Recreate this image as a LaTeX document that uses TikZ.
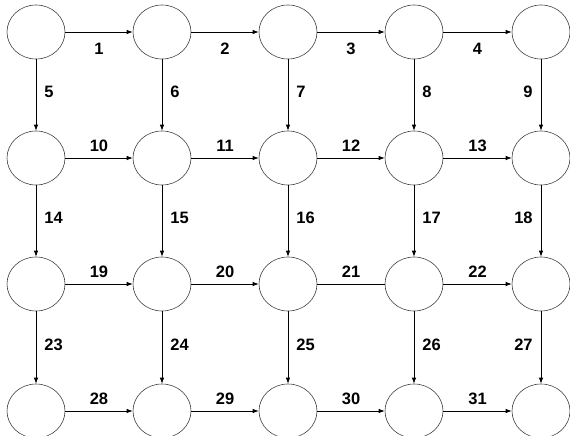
\documentclass[tikz,border=0pt]{standalone}
\usepackage{fontspec}
\setmainfont{Liberation Sans}
\usetikzlibrary{arrows.meta,positioning,shapes.geometric}

\begin{document}
\begin{tikzpicture}[
  x=1pt,y=-1pt,
  line cap=round,line join=round,
  state/.style={ellipse,draw=black!75,line width=0.6pt,minimum width=58pt,minimum height=54pt,inner sep=0pt},
  link/.style={line width=0.8pt,-{Latex[length=6pt,width=4.5pt]}},
  tag/.style={font=\fontsize{16.5}{19}\selectfont\bfseries,inner sep=0pt}
]
  \useasboundingbox (0,0) rectangle (570,436);

  % Grid of states
  \foreach \r/\y in {1/32,2/158,3/284,4/411}{
    \foreach \c/\x in {1/36,2/162,3/288,4/414,5/541}{
      \node[state] (n-\r-\c) at (\x,\y) {};
    }
  }

  % Horizontal links
  \foreach \r in {1,...,4}{
    \foreach \c [evaluate=\c as \d using int(\c+1),
                 evaluate=\c as \k using int((\r-1)*9+\c)] in {1,...,4}{
      \ifnum\r=1
        \draw[link] (n-\r-\c) -- node[tag,midway,below=11pt] {\k} (n-\r-\d);
      \else\ifnum\k=21
        \draw[line width=0.8pt] (n-\r-\c) -- node[tag,midway,above=6pt] {\k} (n-\r-\d);
      \else
        \draw[link] (n-\r-\c) -- node[tag,midway,above=6pt] {\k} (n-\r-\d);
      \fi\fi
    }
  }

  % Vertical links
  \foreach \r in {1,...,3}{
    \foreach \c [evaluate=\c as \k using int((\r-1)*9+4+\c)] in {1,...,5}{
      \pgfmathtruncatemacro{\s}{\r+1}
      \ifnum\c=5
        \draw[link] (n-\r-\c) -- node[tag,pos=0.46,left=8pt] {\k} (n-\s-\c);
      \else
        \draw[link] (n-\r-\c) -- node[tag,pos=0.46,right=8pt] {\k} (n-\s-\c);
      \fi
    }
  }
\end{tikzpicture}
\end{document}
